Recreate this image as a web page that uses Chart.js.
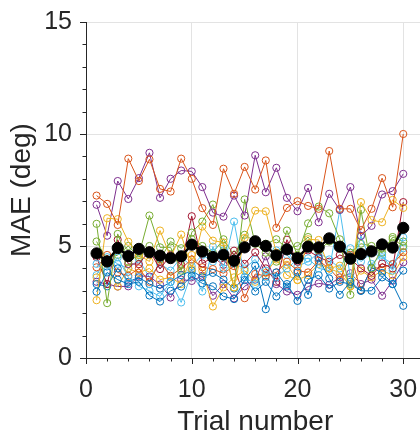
<!DOCTYPE html>
<html><head><meta charset="utf-8">
<script src="https://cdn.jsdelivr.net/npm/chart.js@4/dist/chart.umd.min.js"></script>
<style>
html,body{margin:0;padding:0;background:#fff;overflow:hidden;width:420px;height:436px}
#wrap{position:absolute;left:0;top:0;width:431px;height:436px}
</style></head>
<body><div id="wrap"><canvas id="c" width="431" height="436"></canvas></div>
<script>
const trials = [1,2,3,4,5,6,7,8,9,10,11,12,13,14,15,16,17,18,19,20,21,22,23,24,25,26,27,28,29,30];
const xTickValues = [0,10,20,30];
const yTickValues = [0,5,10,15];
const xLabel = 'Trial number';
const yLabel = 'MAE (deg)';
const meanMAE   = [4.67,4.31,4.91,4.55,4.87,4.72,4.57,4.46,4.54,5.06,4.75,4.51,4.61,4.34,4.94,5.21,5.00,4.58,4.85,4.46,4.97,4.94,5.34,4.97,4.43,4.64,4.76,5.07,4.93,5.81];
const subjA = [2.96,3.82,3.50,3.30,3.40,2.79,2.52,3.00,3.19,3.67,3.33,3.20,2.75,2.63,3.48,4.12,2.18,3.82,3.19,3.82,2.82,4.45,3.55,2.82,3.40,3.00,3.00,3.60,3.30,2.33];
const subjB = [7.25,6.88,5.94,8.90,7.90,8.87,7.55,7.43,8.90,8.00,6.69,5.94,8.45,7.33,8.53,7.52,8.82,5.81,6.70,7.00,6.79,6.66,9.24,6.66,6.66,5.71,6.66,8.03,6.73,10.0];
const subjC = [2.58,6.24,6.20,5.19,4.60,4.31,5.69,4.50,5.51,3.97,5.87,5.24,5.16,3.15,5.36,6.58,6.55,4.70,4.16,3.48,5.30,5.27,4.00,4.12,3.20,6.96,6.16,6.06,7.06,6.70];
const subjD = [6.84,5.46,7.90,7.10,8.03,9.16,7.15,8.00,8.37,8.33,7.63,6.49,6.31,7.25,6.36,9.05,7.40,8.49,7.15,6.55,7.59,6.06,7.33,6.61,7.63,5.45,5.90,7.30,7.45,8.22];
const subjE = [5.99,2.45,5.54,4.30,4.60,6.36,4.94,4.94,3.90,5.60,6.09,6.85,5.00,3.15,7.08,5.10,4.70,4.30,5.69,4.60,6.01,6.76,6.46,5.30,2.82,6.61,4.00,4.90,5.31,5.00];
const subjF = [4.20,3.90,4.49,3.60,3.20,3.00,2.75,3.40,2.48,3.80,2.97,4.97,4.00,6.09,3.60,3.30,3.90,3.60,4.00,4.40,4.45,4.00,3.90,6.61,3.60,5.46,4.20,4.60,3.90,5.39];
const subjG = [4.50,3.30,5.28,4.20,4.19,4.80,3.97,4.60,4.16,6.33,4.22,4.50,4.16,4.79,4.20,4.72,4.00,3.40,5.28,4.30,4.80,4.50,4.30,4.60,4.42,4.00,3.67,4.22,4.00,6.96];
const subjH = [3.30,3.20,4.00,3.40,3.60,3.30,3.10,3.40,3.70,3.90,3.60,3.80,3.50,3.10,3.60,2.97,3.40,2.75,3.30,2.55,3.50,3.70,3.10,3.40,3.30,3.00,4.04,3.80,3.30,3.90];
const subjI = [4.05,4.60,3.82,3.67,4.00,3.40,4.30,3.67,4.00,4.40,4.05,3.97,3.78,4.10,2.67,3.75,3.67,3.82,4.30,3.90,3.82,4.34,4.00,3.48,4.60,3.03,4.00,4.04,4.19,4.72];
const subjJ = [3.60,4.20,3.19,4.00,3.80,4.00,3.50,3.60,3.30,4.60,3.90,2.30,3.15,3.60,3.90,3.40,3.80,4.40,3.70,3.48,3.70,4.20,4.00,3.80,3.20,3.90,3.60,3.90,3.70,4.50];
const subjK = [3.40,3.30,3.19,3.20,3.67,3.64,3.28,2.70,3.50,3.44,3.67,2.78,3.30,2.66,3.20,3.50,4.54,3.30,2.97,2.82,3.19,3.33,3.27,3.60,3.78,3.30,3.50,2.78,3.45,4.27];
const subjL = [5.20,4.40,4.60,5.00,4.50,5.00,4.40,5.20,4.90,5.30,5.00,4.70,5.30,4.60,5.50,5.20,5.10,5.30,4.90,5.00,5.40,4.80,5.20,5.00,4.70,5.10,5.00,4.70,5.40,5.20];
const subjM = [3.70,4.50,4.20,4.00,4.40,3.60,4.20,3.90,4.50,4.10,4.60,4.30,4.80,4.20,4.00,4.40,3.60,4.80,4.60,4.10,4.30,4.70,4.40,4.00,4.90,4.30,4.70,4.50,4.20,4.90];

const subjects = [subjA,subjB,subjC,subjD,subjE,subjF,subjG,subjH,subjI,subjJ,subjK,subjL,subjM];
const palette = ['#0072BD','#D95319','#EDB120','#7E2F8E','#77AC30','#4DBEEE','#A2142F'];
const inkColor = '#262626';
const fontFam = '"Liberation Sans", Arial, Helvetica, sans-serif';
const toPts = arr => trials.map((t,i)=>({x:t,y:arr[i]}));

const datasets = [{
  label:'Mean', data: toPts(meanMAE),
  borderColor:'#000', backgroundColor:'#000',
  borderWidth:2.5, pointRadius:5.6, pointBorderWidth:1,
  pointBackgroundColor:'#000', pointBorderColor:'#000', tension:0
}];
subjects.forEach((s,i)=>{
  const c = palette[i % palette.length];
  datasets.push({
    label:'S'+(i+1), data: toPts(s),
    borderColor:c, backgroundColor:'transparent',
    borderWidth:1, pointRadius:3.6, pointBorderWidth:1,
    pointBackgroundColor:'rgba(0,0,0,0)', pointBorderColor:c, tension:0
  });
});

const minorTicks = {
  id:'minorTicks',
  afterDraw(chart){
    const ctx = chart.ctx, xs = chart.scales.x, ys = chart.scales.y;
    ctx.save();
    ctx.strokeStyle = inkColor; ctx.lineWidth = 1;
    ctx.beginPath();
    for (let v = xs.min; v <= xs.max; v += 2) {
      const px = Math.round(xs.getPixelForValue(v)) + 0.5;
      const len = (v % 10 === 0) ? 6 : 3.5;
      ctx.moveTo(px, ys.bottom); ctx.lineTo(px, ys.bottom + len);
    }
    for (let v = ys.min; v <= ys.max; v += 1) {
      const py = Math.round(ys.getPixelForValue(v)) + 0.5;
      const len = (v % 5 === 0) ? 6 : 3.5;
      ctx.moveTo(xs.left, py); ctx.lineTo(xs.left - len, py);
    }
    ctx.stroke();
    ctx.restore();
  }
};

new Chart(document.getElementById('c'), {
  type:'line',
  data:{datasets},
  options:{
    responsive:false, animation:false,
    layout:{padding:{top:22,right:0,left:0,bottom:0}},
    plugins:{legend:{display:false}, tooltip:{enabled:false}},
    scales:{
      x:{
        type:'linear', min:0, max:32,
        afterBuildTicks: s => { s.ticks = xTickValues.map(v=>({value:v})); },
        afterFit: s => { s.height = 78; s.paddingLeft = 0; s.paddingRight = 0; },
        grid:{color:'#e3e3e3', lineWidth:1, drawTicks:false},
        border:{display:true, color:inkColor, width:1},
        ticks:{color:inkColor, font:{family:fontFam, size:25}, padding:17, maxRotation:0},
        title:{display:true, text:xLabel, color:inkColor, font:{family:fontFam, size:28, lineHeight:1}, padding:{top:0,bottom:0}}
      },
      y:{
        type:'linear', min:0, max:15,
        afterBuildTicks: s => { s.ticks = yTickValues.map(v=>({value:v})); },
        afterFit: s => { s.width = 86; s.paddingTop = 0; s.paddingBottom = 0; },
        grid:{color:'#e3e3e3', lineWidth:1, drawTicks:false},
        border:{display:true, color:inkColor, width:1},
        ticks:{color:inkColor, font:{family:fontFam, size:25}, padding:14},
        title:{display:true, text:yLabel, color:inkColor, font:{family:fontFam, size:28, lineHeight:1}, padding:{top:8,bottom:0}}
      }
    }
  },
  plugins:[minorTicks]
});
</script>
</body></html>
